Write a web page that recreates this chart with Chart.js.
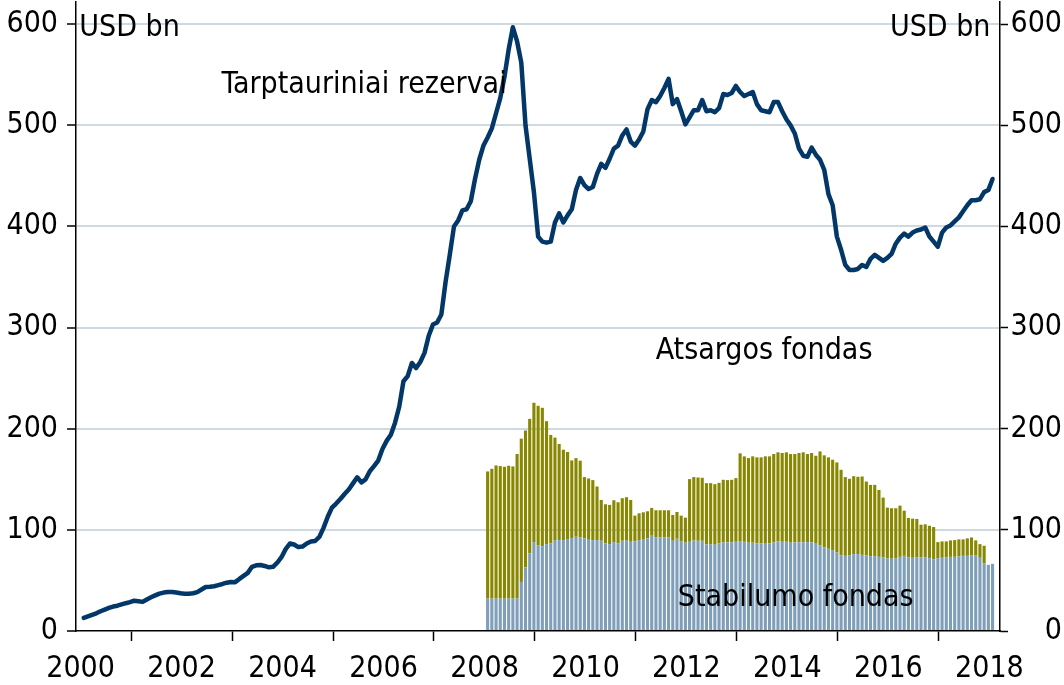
<!DOCTYPE html>
<html>
<head>
<meta charset="utf-8">
<script src="https://cdn.jsdelivr.net/npm/chart.js@4.4.1/dist/chart.umd.min.js"></script>
<style>
html,body{margin:0;padding:0;background:#ffffff;}
#c{display:block;}
</style>
</head>
<body>
<canvas id="c" width="1064" height="685"></canvas>
<script>
// ---- DATA ----
// International reserves, USD bn, monthly from Jan 2000 to Jan 2018
const reserveStartYear = 2000;
const reserves = [
  13, 14.5, 16, 17.5, 19.5, 21.2, 22.8, 24.2, 25, 26.3, 27.5, 28.5,
  30, 29.5, 28.8, 31.2, 33.3, 35.2, 37, 38, 38.6, 38.6, 38, 37.3,
  36.9, 36.9, 37.3, 38.5, 41, 43.5, 43.7, 44.3, 45.4, 46.5, 47.8, 48.5,
  48.3, 51.5, 54.5, 57.5, 63.5, 65, 65.2, 64.3, 63, 63.5, 67.5, 73,
  81, 86.5, 85.5, 83, 83.5, 86.5, 88.5, 89, 93, 102, 113, 122,
  126, 130.5, 135.5, 140, 146, 152, 147, 150, 158, 163, 168.5, 180,
  188, 194, 206, 222, 247, 252, 265, 260, 266, 275, 292, 303,
  305, 313, 345, 372, 400, 406, 416, 417, 425, 447, 466, 480,
  488, 497, 512, 527, 548, 575, 597, 583, 562, 500, 467, 434,
  390, 385, 384, 385, 404, 413, 404, 411, 417, 436, 448, 441,
  437, 439, 452, 462, 458, 467, 477, 480, 490, 496, 484, 480,
  486, 494, 516, 525, 523, 529, 537, 546, 521, 526, 514, 501,
  508, 515, 515, 525, 514, 515, 513, 517, 531, 530, 532, 539,
  533, 529, 531, 533, 521, 515, 514, 513, 523, 523, 514, 506,
  500, 492, 477, 470, 469, 478, 471, 466, 456, 432, 421, 390,
  377, 362, 357, 357, 358, 362, 360, 368, 372, 369, 366, 369,
  373, 383, 389, 393, 390, 394, 396, 397, 399, 390, 385, 380,
  394, 399, 401, 405, 409, 415, 421, 426, 426, 427, 434, 436,
  447
];

// Funds, USD bn, monthly from Jan 2008 to Jan 2018
const fundStartYear = 2008;
const stabilumoFondas = [
  32, 32, 32, 32, 32, 32, 32, 32, 48.5, 62.7, 76.7, 87.9,
  84.6, 83.9, 85.9, 86.6, 89.9, 89.9, 89.9, 90.9, 91.9, 93.2, 92.5, 91.6,
  90.2, 89.9, 89.9, 89.2, 86.6, 85.9, 87.9, 86.6, 89.2, 89.9, 88.2, 88.6,
  89.9, 90.9, 91.6, 94.2, 92.5, 92.5, 92.5, 92.5, 89.2, 91.2, 88.9, 87.3,
  88.2, 89.6, 89.2, 89.2, 85.6, 85.9, 85.3, 86.6, 87.6, 87.6, 87.6, 88.2,
  88.9, 88.2, 87.3, 87.3, 86.6, 86.6, 86.3, 86.6, 87.6, 88.6, 88.2, 88.2,
  87.3, 87.6, 87.6, 87.6, 87.9, 87.6, 86.3, 84.6, 82.6, 81.3, 80.0, 77.6,
  74.7, 74.3, 75.0, 76.0, 76.0, 75.3, 74.7, 74.0, 74.0, 73.3, 72.7, 71.7,
  71.4, 71.7, 73.3, 74.3, 72.7, 72.4, 72.7, 72.7, 72.7, 72.0, 71.0, 72.0,
  72.4, 72.7, 73.3, 73.3, 73.7, 74.3, 74.3, 74.7, 75.0, 72.4, 67.0, 65.4,
  66.4
];
const atsargosFondas = [
  125.8, 128.4, 131.7, 131.1, 130.4, 131.4, 130.7, 143.0, 141.7, 135.5, 133.1, 137.8,
  138.1, 136.8, 121.6, 107.3, 101.3, 95.0, 89.4, 86.1, 76.8, 77.8, 75.9, 60.6,
  60.6, 59.3, 53.0, 40.4, 38.7, 38.8, 41.4, 40.7, 42.1, 42.4, 41.4, 25.5,
  26.5, 26.5, 26.8, 27.5, 26.9, 26.9, 26.9, 26.9, 25.5, 26.5, 25.2, 24.8,
  62.0, 62.6, 62.6, 62.3, 60.6, 60.3, 59.9, 59.9, 61.9, 61.6, 61.9, 63.0,
  86.8, 84.5, 83.7, 85.4, 85.1, 85.1, 86.4, 86.1, 87.4, 88.1, 87.8, 88.5,
  87.7, 87.4, 88.4, 89.1, 87.1, 88.4, 87.0, 93.0, 91.1, 90.4, 89.4, 89.1,
  84.7, 77.9, 75.5, 77.1, 76.5, 77.5, 73.1, 70.5, 70.5, 66.2, 59.2, 50.3,
  50.0, 49.7, 50.7, 44.7, 39.1, 38.7, 38.1, 32.4, 32.8, 32.1, 31.8, 15.9,
  16.2, 15.9, 16.3, 16.6, 16.9, 16.3, 17.3, 17.8, 14.6, 13.5, 17.3, 0,
  0
];

const xTickYears = [2000, 2002, 2004, 2006, 2008, 2010, 2012, 2014, 2016, 2018];
const yTickValues = [0, 100, 200, 300, 400, 500, 600];

const seriesNames = {
  reserves: 'Tarptauriniai rezervai',
  atsargos: 'Atsargos fondas',
  stabilumo: 'Stabilumo fondas'
};
const unitLabel = 'USD bn';

// ---- helpers ----
const monthX = (startYear, i) => startYear + (i + 0.75) / 12;
const toPoints = (startYear, arr) => arr.map((v, i) => ({ x: monthX(startYear, i), y: v }));

const FONT_FAMILY = "'DejaVu Sans Condensed', 'DejaVu Sans', sans-serif";
const FONT_SIZE = 30;
const GRID_COLOR = '#cfd9e1';

// In-chart text labels, placed in data coordinates
const textLabels = [
  { text: seriesNames.reserves, x: 2002.79, y: 532, align: 'left', axis: 'y' },
  { text: seriesNames.atsargos, x: 2011.39, y: 268.6, align: 'left', axis: 'y' },
  { text: seriesNames.stabilumo, x: 2011.83, y: 24.3, align: 'left', axis: 'y' },
  { text: unitLabel, x: 1999.975, y: 588, align: 'left', axis: 'y' },
  { text: unitLabel, x: 2018.02, y: 588, align: 'right', axis: 'y2' }
];

const textPlugin = {
  id: 'textLabels',
  afterDatasetsDraw(chart) {
    const ctx = chart.ctx;
    ctx.save();
    ctx.fillStyle = '#000000';
    ctx.font = FONT_SIZE + 'px ' + FONT_FAMILY;
    ctx.textBaseline = 'alphabetic';
    textLabels.forEach(t => {
      ctx.textAlign = t.align;
      const px = chart.scales.x.getPixelForValue(t.x);
      const py = chart.scales[t.axis].getPixelForValue(t.y);
      ctx.fillText(t.text, px, py);
    });
    ctx.restore();
  }
};

const setTicks = values => scale => { scale.ticks = values.map(v => ({ value: v })); };
const noPad = s => { s.paddingTop = 0; s.paddingBottom = 0; s.paddingLeft = 0; s.paddingRight = 0; };

const chart = new Chart(document.getElementById('c').getContext('2d'), {
  data: {
    datasets: [
      {
        type: 'bar',
        label: seriesNames.stabilumo,
        data: toPoints(fundStartYear, stabilumoFondas),
        backgroundColor: '#7f9eb8',
        borderWidth: 0,
        stack: 'funds',
        yAxisID: 'y',
        barPercentage: 0.74,
        categoryPercentage: 1,
        order: 2
      },
      {
        type: 'bar',
        label: seriesNames.atsargos,
        data: toPoints(fundStartYear, atsargosFondas),
        backgroundColor: '#888800',
        borderWidth: 0,
        stack: 'funds',
        yAxisID: 'y',
        barPercentage: 0.74,
        categoryPercentage: 1,
        order: 2
      },
      {
        type: 'line',
        label: seriesNames.reserves,
        data: toPoints(reserveStartYear, reserves),
        borderColor: '#023768',
        borderWidth: 4.5,
        pointRadius: 0,
        tension: 0,
        fill: false,
        stack: 'line',
        yAxisID: 'y',
        order: 1,
        borderJoinStyle: 'round',
        borderCapStyle: 'round'
      }
    ]
  },
  options: {
    responsive: false,
    animation: false,
    devicePixelRatio: 1,
    layout: { padding: { top: 2, right: 2, left: 0, bottom: 0 } },
    plugins: {
      legend: { display: false },
      tooltip: { enabled: false },
      title: { display: false }
    },
    scales: {
      x: {
        type: 'linear',
        position: 'bottom',
        min: 1999.91,
        max: 2018.21,
        offset: false,
        afterBuildTicks: setTicks(xTickYears),
        afterFit: s => { s.height = 54; noPad(s); },
        grid: {
          drawOnChartArea: false,
          drawTicks: true,
          tickLength: 10,
          tickColor: '#000000',
          tickWidth: 1.5
        },
        border: { display: true, color: '#000000', width: 1.5 },
        ticks: {
          font: { family: FONT_FAMILY, size: FONT_SIZE },
          color: '#000000',
          padding: 10,
          maxRotation: 0,
          autoSkip: false,
          callback: v => String(v)
        }
      },
      y: {
        type: 'linear',
        position: 'left',
        min: 0,
        max: 622,
        stacked: true,
        afterBuildTicks: setTicks(yTickValues),
        afterFit: s => { s.width = 76; noPad(s); },
        grid: {
          color: c => (c.tick && c.tick.value === 0) ? 'rgba(0,0,0,0)' : GRID_COLOR,
          lineWidth: 2,
          drawTicks: true,
          tickLength: 9,
          tickColor: '#000000',
          tickWidth: 1.5
        },
        border: { display: true, color: '#000000', width: 1.5 },
        ticks: {
          font: { family: FONT_FAMILY, size: FONT_SIZE },
          color: '#000000',
          padding: 9
        }
      },
      y2: {
        type: 'linear',
        position: 'right',
        min: 0,
        max: 622,
        afterBuildTicks: setTicks(yTickValues),
        afterFit: s => { s.width = 62; noPad(s); },
        grid: {
          drawOnChartArea: false,
          drawTicks: true,
          tickLength: 8,
          tickColor: '#000000',
          tickWidth: 1.5
        },
        border: { display: true, color: '#000000', width: 1.5 },
        ticks: {
          font: { family: FONT_FAMILY, size: FONT_SIZE },
          color: '#000000',
          padding: 6,
          crossAlign: 'far'
        }
      }
    }
  },
  plugins: [textPlugin]
});
</script>
</body>
</html>
